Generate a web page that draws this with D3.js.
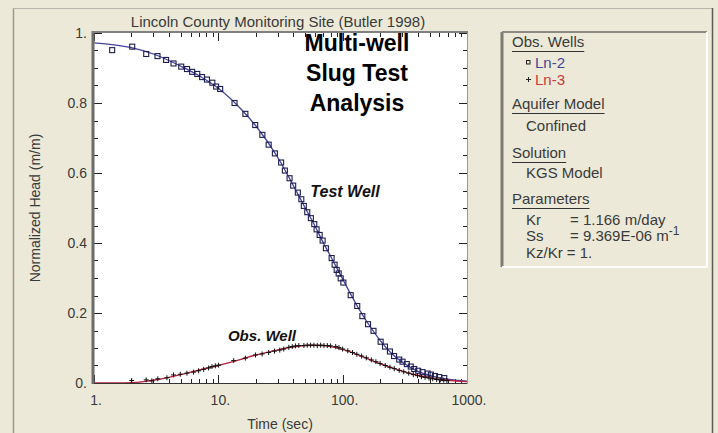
<!DOCTYPE html>
<html>
<head>
<meta charset="utf-8">
<script src="https://cdn.jsdelivr.net/npm/d3@7"></script>
<style>
  html, body { margin: 0; padding: 0; background: #ece9d8; }
  svg { display: block; font-family: "Liberation Sans", Arial, sans-serif; }
</style>
</head>
<body>
<div id="chart"></div>
<script>
// 1. DATA -------------------------------------------------------------------------

// Ln-2 (test well) observations, time in sec, normalized head
const testTime = [1.40, 2.03, 2.63, 3.24, 3.80, 4.36, 5.03, 5.6, 6.16, 6.77, 7.4, 8.1, 8.95, 9.6, 10.35,
  13.5, 16.5, 19.8, 22.6, 25.4, 28.5, 32.0, 34.3, 37.4, 40.0, 43.6, 46.5, 48.7, 51.9, 55.5, 59.1,
  61.7, 65.3, 69.0, 73.3, 81.5, 86.1, 89.5, 92.9, 96.4, 101.3, 116, 131, 144, 160, 177, 202, 219,
  240, 259, 285, 303, 328, 353, 376, 405, 439, 482, 512, 552, 598, 656]
const testHead = [0.951, 0.961, 0.940, 0.934, 0.923, 0.913, 0.904, 0.897, 0.889, 0.883, 0.874, 0.867, 0.858, 0.847, 0.840,
  0.800, 0.769, 0.737, 0.709, 0.681, 0.656, 0.630, 0.607, 0.585, 0.564, 0.544, 0.525, 0.506, 0.488, 0.471, 0.454,
  0.439, 0.423, 0.407, 0.385, 0.357, 0.338, 0.323, 0.313, 0.299, 0.287, 0.251, 0.220, 0.191, 0.168, 0.149, 0.118, 0.104,
  0.090, 0.077, 0.067, 0.061, 0.054, 0.047, 0.040, 0.035, 0.031, 0.027, 0.024, 0.020, 0.017, 0.014]

// Ln-3 (obs. well) observations
const obsTime = [2.01, 2.63, 2.92, 3.26, 3.86, 4.36, 4.94, 5.59, 6.32, 6.94, 7.62, 8.35, 8.89, 9.46, 10.05,
  13.3, 16.5, 19.9, 22.5, 25.4, 28.3, 31.2, 33.6, 36.9, 39.3, 41.8, 44.4, 48.8, 51.9, 55.2, 58.7,
  62.5, 66.5, 70.7, 75.3, 80.0, 87.9, 93.4, 100, 110, 120, 130, 142, 155, 170, 185, 200, 220,
  240, 260, 285, 310, 340, 370, 400, 430, 460, 495, 530, 570, 610, 650, 690]
const obsHead = [0.007, 0.009, 0.006, 0.012, 0.015, 0.023, 0.025, 0.028, 0.031, 0.035, 0.039, 0.043, 0.047, 0.049, 0.051,
  0.064, 0.071, 0.080, 0.083, 0.087, 0.091, 0.094, 0.097, 0.102, 0.104, 0.106, 0.107, 0.107, 0.108, 0.108, 0.108,
  0.107, 0.108, 0.107, 0.107, 0.106, 0.104, 0.101, 0.097, 0.092, 0.087, 0.082, 0.077, 0.072, 0.066, 0.061, 0.056, 0.050,
  0.045, 0.041, 0.036, 0.032, 0.028, 0.024, 0.021, 0.018, 0.016, 0.014, 0.012, 0.010, 0.009, 0.008, 0.007]

// KGS model fitted curves
const testFitTime = [1, 2, 3, 5, 7, 10, 15, 20, 30, 40, 50, 60, 70, 80, 100, 130, 160, 200, 250, 300, 400, 500, 700, 1000]
const testFitHead = [0.972, 0.958, 0.940, 0.905, 0.878, 0.842, 0.785, 0.735, 0.645, 0.565, 0.500, 0.448, 0.400, 0.362,
  0.297, 0.222, 0.170, 0.122, 0.083, 0.060, 0.034, 0.022, 0.011, 0.005]
const obsFitTime = [1, 1.5, 2, 2.5, 3, 4, 5, 6, 8, 10, 15, 20, 28, 38, 50, 60, 70, 80, 100, 130, 160, 200, 250, 300, 400, 500, 700, 1000]
const obsFitHead = [0, 0, 0.001, 0.004, 0.008, 0.016, 0.024, 0.031, 0.042, 0.050, 0.067, 0.080, 0.092, 0.102, 0.107,
  0.108, 0.107, 0.104, 0.096, 0.082, 0.069, 0.055, 0.043, 0.034, 0.022, 0.015, 0.008, 0.004]

const xTickValues = [1, 10, 100, 1000]
const xTickLabels = ["1.", "10.", "100.", "1000."]
const yTickValues = [0, 0.2, 0.4, 0.6, 0.8, 1]
const yTickLabels = ["0.", "0.2", "0.4", "0.6", "0.8", "1."]

// 2. LAYOUT -------------------------------------------------------------------------
const width = 718,
      height = 433,
      plot = { left: 94, right: 467, top: 33, bottom: 383 },
      testColor = "#44449c",
      obsColor  = "#b3223a",
      textColor = "#3a3a3a"

const svg = d3.select("#chart").append("svg")
  .attr("width", width)
  .attr("height", height)

svg.append("rect").attr("width", width).attr("height", height).attr("fill", "#ece9d8")

// outer window frame
svg.append("line").attr("x1", 13.5).attr("x2", 13.5).attr("y1", 8).attr("y2", height).attr("stroke", "#9c9a90").attr("stroke-width", 1.5)
svg.append("line").attr("x1", 13).attr("x2", 712).attr("y1", 8.5).attr("y2", 8.5).attr("stroke", "#b8b6ac")
svg.append("line").attr("x1", 712.5).attr("x2", 712.5).attr("y1", 8).attr("y2", height).attr("stroke", "#5c5b55").attr("stroke-width", 1.5)

const x = d3.scaleLog().domain([1, 1000]).range([plot.left, plot.right])
const y = d3.scaleLinear().domain([0, 1]).range([plot.bottom, plot.top])

// 3. PLOT FRAME -------------------------------------------------------------------------
svg.append("rect")
  .attr("x", plot.left).attr("y", plot.top)
  .attr("width", plot.right - plot.left).attr("height", plot.bottom - plot.top)
  .attr("fill", "white")

svg.append("clipPath").attr("id", "clip")
  .append("rect")
  .attr("x", plot.left).attr("y", plot.top)
  .attr("width", plot.right - plot.left).attr("height", plot.bottom - plot.top)

// tick marks drawn inwards on all four sides
const ticks = svg.append("g").attr("stroke", "#222").attr("stroke-width", 1)

const xMinor = []
d3.range(0, 3).forEach(e => d3.range(2, 10).forEach(m => xMinor.push(m * Math.pow(10, e))))
const yMinor = d3.range(0, 21).map(i => i * 0.05)

const vTick = (t, len) => {
  const px = Math.round(x(t)) + 0.5
  ticks.append("line").attr("x1", px).attr("x2", px).attr("y1", plot.bottom).attr("y2", plot.bottom - len)
  ticks.append("line").attr("x1", px).attr("x2", px).attr("y1", plot.top).attr("y2", plot.top + len)
}
const hTick = (v, len) => {
  const py = Math.round(y(v)) + 0.5
  ticks.append("line").attr("y1", py).attr("y2", py).attr("x1", plot.left).attr("x2", plot.left + len)
  ticks.append("line").attr("y1", py).attr("y2", py).attr("x1", plot.right).attr("x2", plot.right - len)
}
xMinor.forEach(t => vTick(t, 4))
xTickValues.forEach(t => vTick(t, 8))
yMinor.forEach(v => hTick(v, 4))
yTickValues.forEach(v => hTick(v, 8))

// 4. CURVES AND POINTS -------------------------------------------------------------------------
const g = svg.append("g").attr("clip-path", "url(#clip)")

const line = d3.line()
  .x(d => x(d[0]))
  .y(d => y(d[1]))
  .curve(d3.curveMonotoneX)

g.append("path")
  .datum(d3.zip(testFitTime, testFitHead))
  .attr("d", line)
  .attr("fill", "none")
  .attr("stroke", testColor)
  .attr("stroke-width", 1.3)

g.selectAll("rect.test")
  .data(d3.zip(testTime, testHead))
  .join("rect")
  .attr("class", "test")
  .attr("x", d => x(d[0]) - 2.5)
  .attr("y", d => y(d[1]) - 2.5)
  .attr("width", 5).attr("height", 5)
  .attr("fill", "none")
  .attr("stroke", "#1c1c50")
  .attr("stroke-width", 1.1)

g.append("path")
  .datum(d3.zip(obsFitTime, obsFitHead))
  .attr("d", line)
  .attr("fill", "none")
  .attr("stroke", obsColor)
  .attr("stroke-width", 1.4)

g.selectAll("path.obs")
  .data(d3.zip(obsTime, obsHead))
  .join("path")
  .attr("class", "obs")
  .attr("d", d => {
    const cx = x(d[0]), cy = y(d[1])
    return `M${cx - 2.5},${cy}H${cx + 2.5}M${cx},${cy - 2.5}V${cy + 2.5}`
  })
  .attr("stroke", "#111")
  .attr("stroke-width", 1)

// 3D border of the plot box
svg.append("line").attr("x1", plot.left - 1).attr("x2", plot.left - 1).attr("y1", plot.top - 2).attr("y2", plot.bottom + 1)
  .attr("stroke", "#6c6c6c").attr("stroke-width", 3)
svg.append("line").attr("x1", plot.left - 2).attr("x2", plot.right + 1).attr("y1", plot.top - 1).attr("y2", plot.top - 1)
  .attr("stroke", "#808080").attr("stroke-width", 2)
svg.append("line").attr("x1", plot.left).attr("x2", plot.right + 1).attr("y1", plot.bottom + 0.5).attr("y2", plot.bottom + 0.5)
  .attr("stroke", "#333").attr("stroke-width", 1)
svg.append("line").attr("x1", plot.right + 0.5).attr("x2", plot.right + 0.5).attr("y1", plot.top).attr("y2", plot.bottom + 1)
  .attr("stroke", "#9a9a9a").attr("stroke-width", 1)

// 5. LABELS -------------------------------------------------------------------------
svg.append("text")
  .attr("x", 278).attr("y", 27)
  .attr("text-anchor", "middle")
  .attr("font-size", 15)
  .attr("fill", textColor)
  .text("Lincoln County Monitoring Site (Butler 1998)")

svg.append("g").selectAll("text")
  .data(d3.zip(yTickValues, yTickLabels))
  .join("text")
  .attr("x", 87)
  .attr("y", d => y(d[0]) + 5)
  .attr("text-anchor", "end")
  .attr("font-size", 14)
  .attr("fill", textColor)
  .text(d => d[1])

svg.append("g").selectAll("text")
  .data(d3.zip(xTickValues, xTickLabels))
  .join("text")
  .attr("x", d => x(d[0]) + 2)
  .attr("y", 405)
  .attr("text-anchor", "middle")
  .attr("font-size", 14)
  .attr("fill", textColor)
  .text(d => d[1])

svg.append("text")
  .attr("x", 280).attr("y", 429)
  .attr("text-anchor", "middle")
  .attr("font-size", 14)
  .attr("fill", textColor)
  .text("Time (sec)")

svg.append("text")
  .attr("transform", `translate(40,${(plot.top + plot.bottom) / 2}) rotate(-90)`)
  .attr("text-anchor", "middle")
  .attr("font-size", 14)
  .attr("fill", textColor)
  .text("Normalized Head (m/m)")

// annotations inside the plot
const heading = svg.append("text")
  .attr("text-anchor", "middle")
  .attr("font-size", 23)
  .attr("font-weight", "bold")
  .attr("fill", "#000")
;["Multi-well", "Slug Test", "Analysis"].forEach((s, i) => {
  heading.append("tspan").attr("x", 357).attr("y", 51 + i * 30).text(s)
})

svg.append("text")
  .attr("x", 345).attr("y", 197)
  .attr("text-anchor", "middle")
  .attr("font-size", 16)
  .attr("font-weight", "bold")
  .attr("font-style", "italic")
  .attr("fill", "#111")
  .text("Test Well")

svg.append("text")
  .attr("x", 262).attr("y", 341)
  .attr("text-anchor", "middle")
  .attr("font-size", 15)
  .attr("font-weight", "bold")
  .attr("font-style", "italic")
  .attr("fill", "#111")
  .text("Obs. Well")

// 6. LEGEND PANEL -------------------------------------------------------------------------
const box = { x: 502, y: 32, w: 205, h: 235 }
const legend = svg.append("g")
legend.append("line").attr("x1", box.x).attr("x2", box.x).attr("y1", box.y).attr("y2", box.y + box.h)
  .attr("stroke", "#7c7b76").attr("stroke-width", 3)
legend.append("line").attr("x1", box.x).attr("x2", box.x + box.w).attr("y1", box.y).attr("y2", box.y)
  .attr("stroke", "#8a8984").attr("stroke-width", 2)
legend.append("line").attr("x1", box.x + box.w).attr("x2", box.x + box.w).attr("y1", box.y).attr("y2", box.y + box.h)
  .attr("stroke", "#ffffff").attr("stroke-width", 2)
legend.append("line").attr("x1", box.x).attr("x2", box.x + box.w).attr("y1", box.y + box.h).attr("y2", box.y + box.h)
  .attr("stroke", "#ffffff").attr("stroke-width", 2)

const headings = [["Obs. Wells", 47], ["Aquifer Model", 109], ["Solution", 158], ["Parameters", 204]]
headings.forEach(([s, yy]) => {
  const t = legend.append("text")
    .attr("x", 512).attr("y", yy)
    .attr("font-size", 15)
    .attr("fill", textColor)
    .text(s)
  const w = t.node().getComputedTextLength()
  legend.append("line").attr("x1", 512).attr("x2", 512 + w)
    .attr("y1", yy + 4.5).attr("y2", yy + 4.5)
    .attr("stroke", "#333").attr("stroke-width", 1)
})

legend.append("rect").attr("x", 526.5).attr("y", 60.5).attr("width", 3.5).attr("height", 3.5)
  .attr("fill", "none").attr("stroke", "#222").attr("stroke-width", 1)
legend.append("text").attr("x", 535).attr("y", 68).attr("font-size", 15).attr("fill", testColor).text("Ln-2")
legend.append("path").attr("d", "M526,79.5H531M528.5,77V82").attr("stroke", "#222").attr("stroke-width", 1)
legend.append("text").attr("x", 535).attr("y", 85).attr("font-size", 15).attr("fill", "#c83a3a").text("Ln-3")

legend.append("text").attr("x", 526).attr("y", 131).attr("font-size", 15).attr("fill", textColor).text("Confined")
legend.append("text").attr("x", 526).attr("y", 178).attr("font-size", 15).attr("fill", textColor).text("KGS Model")

const params = [["Kr", "= 1.166 m/day", 225], ["Ss", "= 9.369E-06 m", 241]]
params.forEach(([k, v, yy]) => {
  legend.append("text").attr("x", 526).attr("y", yy).attr("font-size", 15).attr("fill", textColor).text(k)
  const t = legend.append("text").attr("x", 570).attr("y", yy).attr("font-size", 15).attr("fill", textColor).text(v)
  if (k === "Ss") t.append("tspan").attr("dy", -6).attr("font-size", 12).text("-1")
})
legend.append("text").attr("x", 526).attr("y", 258).attr("font-size", 15).attr("fill", textColor).text("Kz/Kr = 1.")
</script>
</body>
</html>
